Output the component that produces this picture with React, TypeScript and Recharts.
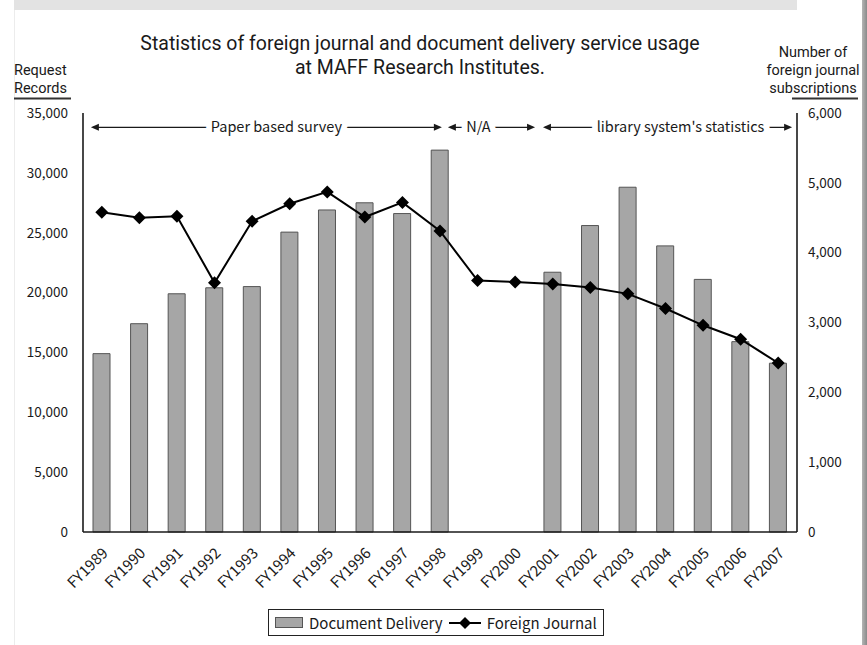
import React from "react";
import {
  Bar,
  ComposedChart,
  Line,
  ReferenceLine,
  XAxis,
  YAxis,
} from "recharts";

const years = [
  "FY1989", "FY1990", "FY1991", "FY1992", "FY1993", "FY1994", "FY1995",
  "FY1996", "FY1997", "FY1998", "FY1999", "FY2000", "FY2001", "FY2002",
  "FY2003", "FY2004", "FY2005", "FY2006", "FY2007",
];

// request records (left axis); no survey in FY1999-2000
const documentDelivery: Array<number | null> = [
  14900, 17400, 19900, 20400, 20500, 25050, 26900, 27500, 26600, 31900,
  null, null, 21700, 25600, 28800, 23900, 21100, 15900, 14100,
];

// subscriptions (right axis)
const foreignJournal = [
  4580, 4500, 4520, 3570, 4450, 4700, 4870, 4510, 4720, 4310,
  3600, 3580, 3550, 3500, 3410, 3200, 2960, 2760, 2420,
];

const leftTicks = [0, 5000, 10000, 15000, 20000, 25000, 30000, 35000];
const rightTicks = [0, 1000, 2000, 3000, 4000, 5000, 6000];

// survey periods, in category units along the hidden numeric axis
const periods = [
  { label: "Paper based survey", from: 0.21, to: 9.55, dx: 10 },
  { label: "N/A", from: 9.71, to: 12.03, dx: -13 },
  { label: "library system's statistics", from: 12.24, to: 18.87, dx: 13 },
];
const periodY = 33800;

const data = years.map((year, i) => ({
  year,
  idx: i + 0.5,
  doc: documentDelivery[i],
  journal: foreignJournal[i],
}));

const FONT = "'Noto Sans CJK JP', 'Noto Sans', sans-serif";
const LABEL_FONT = "Roboto, 'Noto Sans', sans-serif";
const INK = "#1a1a1a";

const fmt = (v: number) => v.toLocaleString("en-US");

function Diamond(props: any) {
  const { cx, cy } = props;
  if (cx == null || cy == null) return null;
  const r = 6.5;
  return (
    <path
      d={`M${cx},${cy - r}L${cx + r},${cy}L${cx},${cy + r}L${cx - r},${cy}Z`}
      fill="#000"
    />
  );
}

function PeriodArrow(props: any) {
  const { x1, x2, y1, text, dx } = props;
  const y = y1;
  const h = 3.5;
  const len = 8;
  const mid = (x1 + x2) / 2 + dx;
  return (
    <g>
      <line x1={x1 + 2} x2={x2 - 2} y1={y} y2={y} stroke={INK} strokeWidth={1.4} />
      <path d={`M${x1},${y}L${x1 + len},${y - h}L${x1 + len},${y + h}Z`} fill={INK} />
      <path d={`M${x2},${y}L${x2 - len},${y - h}L${x2 - len},${y + h}Z`} fill={INK} />
      <text
        x={mid}
        y={y + 5}
        textAnchor="middle"
        fontFamily={FONT}
        fontSize={14.5}
        fill={INK}
        stroke="#fff"
        strokeWidth={12}
        strokeLinejoin="round"
        paintOrder="stroke"
      >
        {text}
      </text>
    </g>
  );
}

function YearTick(props: any) {
  const { x, y, payload } = props;
  const ax = x + 7;
  const ay = y + 14;
  return (
    <text
      x={ax}
      y={ay}
      transform={`rotate(-45, ${ax}, ${ay})`}
      textAnchor="end"
      fontFamily={FONT}
      fontSize={15}
      fill={INK}
    >
      {payload.value}
    </text>
  );
}

function Decorations() {
  return (
    <svg
      width={867}
      height={645}
      style={{ position: "absolute", left: 0, top: 0, pointerEvents: "none" }}
    >
      <defs>
        <linearGradient id="edge" x1="0" x2="1" y1="0" y2="0">
          <stop offset="0" stopColor="#b5b5b5" />
          <stop offset="1" stopColor="#8a8a8a" />
        </linearGradient>
      </defs>
      <rect x={14} y={0} width={783} height={10} fill="#e3e3e3" />
      <line x1={14.5} x2={14.5} y1={10} y2={645} stroke="#ececec" />
      <rect x={862} y={0} width={5} height={645} fill="url(#edge)" />

      <g fontFamily={LABEL_FONT} fill={INK}>
        <text x={420} y={50} textAnchor="middle" fontSize={19.5}>
          Statistics of foreign journal and document delivery service usage
        </text>
        <text x={420} y={74} textAnchor="middle" fontSize={19.5}>
          at MAFF Research Institutes.
        </text>
      </g>

      <g fontFamily={LABEL_FONT} fill={INK} fontSize={14.5}>
        <text x={14} y={75}>Request</text>
        <text x={14} y={93}>Records</text>
        <text x={813} y={57} textAnchor="middle">Number of</text>
        <text x={813} y={75} textAnchor="middle">foreign journal</text>
        <text x={813} y={93} textAnchor="middle">subscriptions</text>
      </g>
      <line x1={14} x2={71} y1={98.5} y2={98.5} stroke="#333" strokeWidth={2} />
      <line x1={792} x2={858} y1={98.5} y2={98.5} stroke="#333" strokeWidth={2} />
    </svg>
  );
}

function LegendBox() {
  return (
    <div
      style={{
        position: "absolute",
        left: 268,
        top: 609,
        height: 25,
        padding: "0 6px",
        border: "1.5px solid #222",
        background: "#fff",
        display: "flex",
        alignItems: "center",
        gap: 6,
        fontFamily: FONT,
        fontSize: 15,
        color: INK,
        whiteSpace: "nowrap",
      }}
    >
      <svg width={28} height={12}>
        <rect x={0.5} y={0.5} width={27} height={10} fill="#a6a6a6" stroke="#555" />
      </svg>
      <span>Document Delivery</span>
      <svg width={32} height={14}>
        <line x1={0} x2={32} y1={7} y2={7} stroke="#000" strokeWidth={2} />
        <path d="M16,1L22,7L16,13L10,7Z" fill="#000" />
      </svg>
      <span>Foreign Journal</span>
    </div>
  );
}

export default function App() {
  return (
    <div
      style={{
        position: "absolute",
        left: 0,
        top: 0,
        width: 867,
        height: 645,
        background: "#fff",
      }}
    >
      <ComposedChart
        width={867}
        height={645}
        data={data}
        margin={{ top: 113, right: 0, bottom: 0, left: 0 }}
      >
        <XAxis
          xAxisId="cat"
          dataKey="year"
          height={113}
          interval={0}
          tickLine={false}
          axisLine={{ stroke: INK, strokeWidth: 1.6 }}
          tick={<YearTick />}
        />
        <XAxis
          xAxisId="n"
          type="number"
          dataKey="idx"
          domain={[0, 19]}
          ticks={[1, 2, 3, 4, 5, 6, 7, 8, 9, 10, 11, 12, 13, 14, 15, 16, 17, 18]}
          allowDataOverflow
          mirror
          height={0}
          tick={false}
          tickSize={5}
          tickLine={{ stroke: INK, strokeWidth: 1.2 }}
          axisLine={false}
        />
        <YAxis
          yAxisId="left"
          width={83}
          domain={[0, 35000]}
          ticks={leftTicks}
          interval={0}
          tickFormatter={fmt}
          tickLine={false}
          tickMargin={9}
          axisLine={{ stroke: INK, strokeWidth: 1.6 }}
          tick={{ fontFamily: FONT, fontSize: 13.5, fill: INK }}
        />
        <YAxis
          yAxisId="right"
          orientation="right"
          width={70}
          domain={[0, 6000]}
          ticks={rightTicks}
          interval={0}
          tickFormatter={fmt}
          tickLine={false}
          tickMargin={5}
          axisLine={{ stroke: INK, strokeWidth: 1.6 }}
          tick={{ fontFamily: FONT, fontSize: 13.5, fill: INK, textAnchor: "start" }}
        />
        <Bar
          xAxisId="cat"
          yAxisId="left"
          dataKey="doc"
          name="Document Delivery"
          barSize={17}
          fill="#a6a6a6"
          stroke="#555"
          strokeWidth={1}
          isAnimationActive={false}
        />
        <Line
          xAxisId="cat"
          yAxisId="right"
          dataKey="journal"
          name="Foreign Journal"
          stroke="#000"
          strokeWidth={2}
          dot={<Diamond />}
          activeDot={false}
          isAnimationActive={false}
        />
        {periods.map((p) => (
          <ReferenceLine
            key={p.label}
            xAxisId="n"
            yAxisId="left"
            segment={[
              { x: p.from, y: periodY },
              { x: p.to, y: periodY },
            ]}
            shape={(sp: any) => <PeriodArrow {...sp} text={p.label} dx={p.dx} />}
          />
        ))}
      </ComposedChart>
      <Decorations />
      <LegendBox />
    </div>
  );
}
